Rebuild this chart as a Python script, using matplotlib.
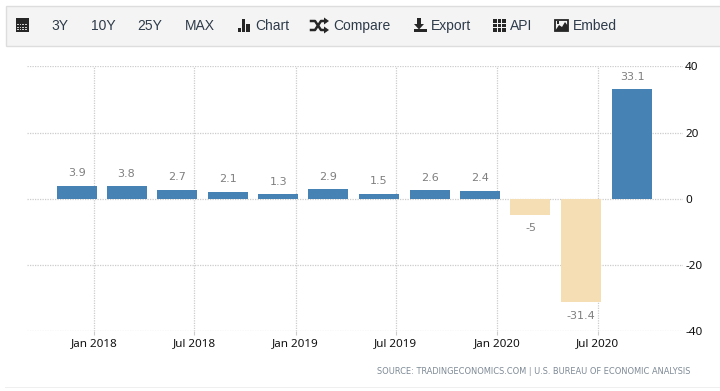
import matplotlib
matplotlib.use("Agg")
import matplotlib.pyplot as plt
import matplotlib.dates as mdates
from matplotlib.patches import Rectangle, Polygon
from datetime import date

quarters = ["2017-12-01", "2018-03-01", "2018-06-01", "2018-09-01", "2018-12-01", "2019-03-01",
            "2019-06-01", "2019-09-01", "2019-12-01", "2020-03-01", "2020-06-01", "2020-09-01"]
values = [3.9, 3.8, 2.7, 2.1, 1.3, 2.9, 1.5, 2.6, 2.4, -5, -31.4, 33.1]
value_labels = ["3.9", "3.8", "2.7", "2.1", "1.3", "2.9", "1.5", "2.6", "2.4", "-5", "-31.4", "33.1"]
x_ticks = ["2018-01-01", "2018-07-01", "2019-01-01", "2019-07-01", "2020-01-01", "2020-07-01"]
x_tick_labels = ["Jan 2018", "Jul 2018", "Jan 2019", "Jul 2019", "Jan 2020", "Jul 2020"]
y_ticks = [-40, -20, 0, 20, 40]
toolbar_items = ["3Y", "10Y", "25Y", "MAX", "Chart", "Compare", "Export", "API", "Embed"]
source_text = "SOURCE: TRADINGECONOMICS.COM | U.S. BUREAU OF ECONOMIC ANALYSIS"

W, H = 720, 391
BLUE, WHEAT = "#4682B4", "#F5DEB3"
GRID = "#cccccc"
ICON = "#262626"
TICK_FONT = "Noto Sans"

fig = plt.figure(figsize=(W / 100, H / 100), dpi=100, facecolor="white")

# Plot area
left, right, top, bottom = 27, 683, 66.4, 330.8
ax = fig.add_axes([left / W, 1 - bottom / H, (right - left) / W, (bottom - top) / H])
d0 = mdates.date2num(date(2018, 1, 1))
px_per_day = (598.3 - 94.3) / 912
x_anchor = 93.9
ax.set_xlim(d0 - (x_anchor - left) / px_per_day, d0 + (right - x_anchor) / px_per_day)
ax.set_ylim(-40, 40)
dates = [mdates.date2num(date.fromisoformat(q)) for q in quarters]
colors = [BLUE if v >= 0 else WHEAT for v in values]
ax.bar(dates, values, width=40 / px_per_day, color=colors, zorder=3, linewidth=0)
for d, v, lab in zip(dates, values, value_labels):
    ax.annotate(lab, (d, v), xytext=(0, 9.0 if v >= 0 else -9.5), textcoords="offset points",
                ha="center", va="center", color="#7f7f7f", fontsize=8.0, family="DejaVu Sans",
                zorder=4)
ax.set_xticks([mdates.date2num(date.fromisoformat(t)) for t in x_ticks])
ax.set_xticklabels(x_tick_labels, fontsize=8.4, family=TICK_FONT, color="#111111")
ax.set_yticks(y_ticks)
ax.set_yticklabels([str(y) for y in y_ticks], fontsize=8.4, family=TICK_FONT, color="#111111", ha="left")
ax.yaxis.tick_right()
ax.tick_params(axis="y", length=0, pad=1.5)
ax.tick_params(axis="x", length=3, width=0.8, color=GRID, pad=2)
ax.grid(True, color=GRID, linestyle=(0, (1, 1)), linewidth=0.9)
ax.set_axisbelow(True)
for s in ax.spines.values():
    s.set_visible(False)

# Overlay in pixel units for page furniture
ov = fig.add_axes([0, 0, 1, 1], zorder=5)
ov.set_xlim(0, W)
ov.set_ylim(H, 0)
ov.axis("off")
ov.patch.set_alpha(0)

# page frame
ov.add_patch(Rectangle((4.5, 46), 0.9, 341, color="#efefef", lw=0))
ov.add_patch(Rectangle((4.5, 387), 716, 1, color="#efefef", lw=0))
ov.add_patch(Rectangle((5.5, 5.5), 716, 40.5, facecolor="#f4f4f4", edgecolor="#dddddd", lw=1))

# toolbar labels
centers = [60, 103, 149.5, 199.5]
for c, t in zip(centers, toolbar_items[:4]):
    ov.text(c, 26, t, ha="center", va="center", fontsize=10.0, family="Liberation Sans", color="#2e3b4a")
lefts = [255, 333, 431, 510, 573]
for l, t in zip(lefts, toolbar_items[4:]):
    ov.text(l, 26, t, ha="left", va="center", fontsize=10.0, family="Liberation Sans", color="#2e3b4a")

def rect(x, y, w, h, c=ICON):
    ov.add_patch(Rectangle((x, y), w, h, color=c, lw=0))

# calendar icon
rect(15.5, 18, 13.5, 14)
for i in range(4):
    for j in range(3):
        rect(17 + i * 2.7, 24 + j * 2.5, 1.5, 1.2, "#cfcfcf")
# chart icon
for x, y0 in [(238, 28), (242, 19), (246.3, 24)]:
    rect(x, y0, 3.4, 32 - y0)
# shuffle icon
ov.plot([311, 315, 321, 325], [21, 21, 30, 30], color=ICON, lw=1.8)
ov.plot([311, 315, 321, 325], [30, 30, 21, 21], color=ICON, lw=1.8)
ov.add_patch(Polygon([(324, 17.5), (329, 21), (324, 24.5)], color=ICON, lw=0))
ov.add_patch(Polygon([(324, 26.5), (329, 30), (324, 33.5)], color=ICON, lw=0))
# export icon
rect(417, 18, 4, 6)
ov.add_patch(Polygon([(414, 24), (424, 24), (419, 29.5)], color=ICON, lw=0))
rect(413.5, 29, 13, 3.2)
# API grid icon
for i in range(3):
    for j in range(3):
        rect(493 + i * 4.5, 19 + j * 4.5, 3.6, 3.6)
# embed picture icon
ov.add_patch(Rectangle((555, 19.5), 12.5, 11.5, facecolor="#f4f4f4", edgecolor=ICON, lw=1.3))
ov.add_patch(Polygon([(555, 31), (559, 25), (562, 27), (565, 22), (568, 26), (568, 31)], color=ICON, lw=0))
rect(556.5, 21, 2.5, 2.5)

# source line
ov.text(690, 371.7, source_text, ha="right", va="center", fontsize=5.95,
        family="DejaVu Sans", color="#7f8a96")

fig.savefig("out.png", dpi=100)
